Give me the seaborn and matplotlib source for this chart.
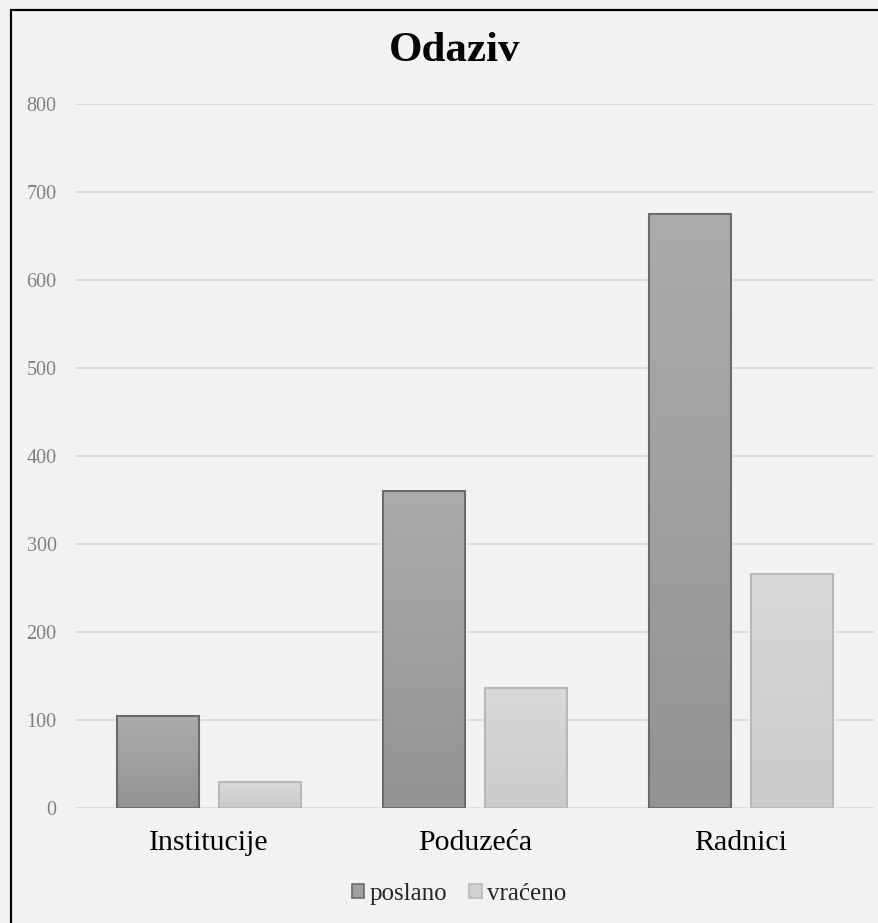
import matplotlib
matplotlib.use("Agg")
import matplotlib.pyplot as plt
import seaborn as sns
import pandas as pd
import numpy as np
from matplotlib.patches import Patch, Rectangle
from matplotlib.colors import LinearSegmentedColormap

categories = ["Institucije", "Poduzeća", "Radnici"]
series_names = ["poslano", "vraćeno"]
poslano = [104, 360, 675]
vraceno = [30, 136, 266]

title = "Odaziv"
y_ticks = [0, 100, 200, 300, 400, 500, 600, 700, 800]

df = pd.DataFrame({
    "kategorija": categories * 2,
    "serija": [series_names[0]] * 3 + [series_names[1]] * 3,
    "broj": poslano + vraceno,
})

# gradient (top colour, bottom colour) and edge per series
styles = {
    "poslano": ("#ababab", "#939393", "#6b6b6b"),
    "vraćeno": ("#d9d9d9", "#cbcbcb", "#b8b8b8"),
}

sns.set_style("white")
plt.rcParams["font.family"] = ["Liberation Serif", "DejaVu Serif"]

bg = "#f2f2f2"
fig = plt.figure(figsize=(8.79, 9.23), dpi=100, facecolor=bg)
ax = fig.add_axes([76 / 879, 1 - 808 / 923, (874 - 76) / 879, (808 - 104) / 923])
ax.set_facecolor(bg)

sns.barplot(
    data=df, x="kategorija", y="broj", hue="serija",
    hue_order=series_names, order=categories,
    width=0.767, gap=0.19, legend=False, ax=ax,
)

for name, container in zip(series_names, ax.containers):
    top, bottom, edge = styles[name]
    cmap = LinearSegmentedColormap.from_list(name, [bottom, top])
    for bar in container.patches:
        x0, y0 = bar.get_x(), bar.get_y()
        w, h = bar.get_width(), bar.get_height()
        grad = np.linspace(0, 1, 256).reshape(-1, 1)
        im = ax.imshow(grad, extent=[x0, x0 + w, y0, y0 + h], origin="lower",
                       aspect="auto", cmap=cmap, zorder=2)
        im.set_clip_path(bar)
        bar.set_facecolor("none")
        bar.set_edgecolor(edge)
        bar.set_linewidth(1.5)
        bar.set_zorder(3)

ax.set_xlim(-0.5, len(categories) - 0.5)
ax.set_ylim(0, 800)
ax.set_yticks(y_ticks)
ax.grid(axis="y", color="#d9d9d9", linewidth=1.2)
ax.grid(axis="x", visible=False)
ax.set_axisbelow(True)
for s in ax.spines.values():
    s.set_visible(False)
ax.set_xlabel("")
ax.set_ylabel("")
ax.tick_params(axis="y", length=0, pad=14, labelsize=14.5, labelcolor="#808080")
ax.tick_params(axis="x", length=0, pad=16, labelsize=21.5, labelcolor="black")

fig.text(455 / 879, 1 - 51 / 923, title, ha="center", va="center",
         fontsize=31, fontweight="bold", color="black")

handles = [Patch(facecolor=(np.array(matplotlib.colors.to_rgb(styles[n][0])) +
                            np.array(matplotlib.colors.to_rgb(styles[n][1]))) / 2,
                 edgecolor=styles[n][2], linewidth=1.2, label=n) for n in series_names]
fig.legend(handles=handles, loc="center", bbox_to_anchor=(459 / 879, 1 - 894 / 923),
           ncol=2, frameon=False, fontsize=18, handlelength=0.5, handleheight=0.5,
           handletextpad=0.2, columnspacing=0.9, borderpad=0)

fig.patches.append(Rectangle((10.5 / 879, -0.1), 1.0, (923 - 10.5) / 923 + 0.1,
                             transform=fig.transFigure, fill=False,
                             edgecolor="black", linewidth=1.6))

fig.savefig("out.png", dpi=100, facecolor=bg)
